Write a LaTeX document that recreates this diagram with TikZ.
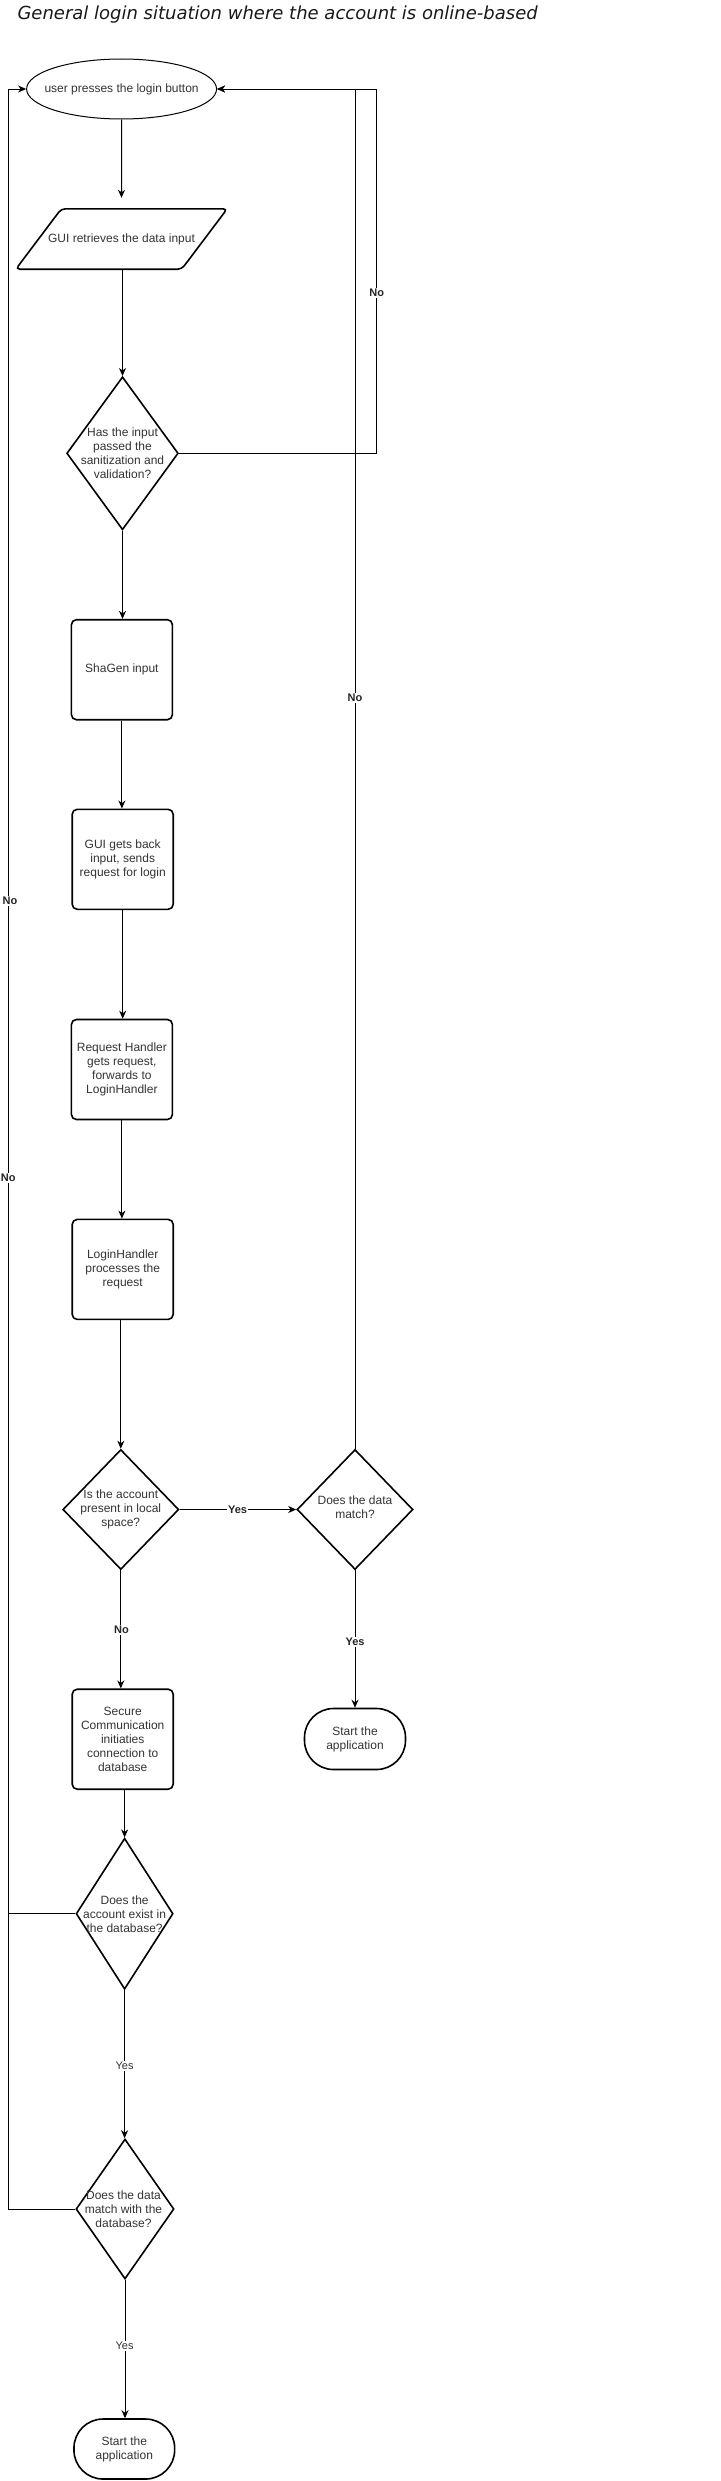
\documentclass[tikz,border=0pt]{standalone}
\usepackage{fontspec}
\setmainfont{Liberation Sans}
\newfontfamily\titlefam{DejaVu Sans}
\usetikzlibrary{shapes.geometric,arrows.meta}
\definecolor{txt}{HTML}{333333}
\begin{document}
\begin{tikzpicture}[x=1pt,y=-1pt,
  ntext/.style={font=\fontsize{12}{14}\selectfont, text=txt, align=center, inner sep=0pt},
  procbox/.style={draw, line width=1.6pt, rounded corners=5pt, minimum width=101pt, minimum height=100pt, inner sep=0pt, ntext},
  decision/.style={draw, diamond, line width=1.6pt, inner sep=0pt},
  terminal/.style={draw, line width=1.6pt, rounded corners=29pt, minimum width=101pt, minimum height=61pt, inner sep=0pt, ntext},
  conn/.style={line width=1pt, -{Stealth[length=8pt,width=7pt,inset=2.5pt]}},
  plainline/.style={line width=1pt},
  lblb/.style={fill=white, inner sep=1pt, font=\bfseries\fontsize{11}{13}\selectfont, text=black!85},
  lblr/.style={fill=white, inner sep=1pt, font=\fontsize{11}{13}\selectfont, text=txt}
]
\useasboundingbox (0,0) rectangle (720,2481);

% title
\node[anchor=base west, inner sep=0pt, font=\titlefam\itshape\fontsize{18}{20}\selectfont, text=black!90] (title) at (17.3,19.3) {General login situation where the account is online-based};

% nodes
\node[draw, ellipse, line width=1pt, minimum width=190pt, minimum height=60pt, inner sep=0pt,
      label={[ntext]center:user presses the login button}] (ell) at (121.6,89) {};
\node[ntext, minimum width=211pt, minimum height=60pt] (para) at (121.5,239) {GUI retrieves the data input};
\draw[line width=1.6pt, rounded corners=4pt] ([xshift=45.5pt]para.north west) -- (para.north east) -- ([xshift=-45.5pt]para.south east) -- (para.south west) -- cycle;

\node[decision, minimum width=111.6pt, minimum height=153pt,
      label={[ntext]center:{Has the input\\passed the\\sanitization and\\validation?}}] (d1) at (122.5,453.3) {};

\node[procbox] (b1) at (121.9,669.7) {ShaGen input};
\node[procbox] (b2) at (122.7,859.3) {GUI gets back\\input, sends\\request for login};
\node[procbox] (b3) at (121.9,1069.5) {Request Handler\\gets request,\\forwards to\\LoginHandler};
\node[procbox] (b4) at (122.7,1269.4) {LoginHandler\\processes the\\request};

\node[decision, minimum width=116pt, minimum height=120pt,
      label={[ntext]center:{Is the account\\present in local\\space?}}] (d2) at (120.8,1509.5) {};
\node[decision, minimum width=116pt, minimum height=120pt,
      label={[ntext, yshift=2pt]center:{Does the data\\match?}}] (d3) at (355,1509.5) {};

\node[procbox] (b5) at (122.7,1739.2) {Secure\\Communication\\initiaties\\connection to\\database};
\node[terminal] (t1) at (355,1739) {Start the\\application};

\node[decision, minimum width=97pt, minimum height=151pt,
      label={[ntext]center:{Does the\\account exist in\\the database?}}] (d4) at (124.6,1913.7) {};
\node[decision, minimum width=98pt, minimum height=140pt,
      label={[ntext, xshift=-1.5pt]center:{Does the data\\match with the\\database?}}] (d5) at (125,2209) {};
\node[terminal, minimum width=100.7pt, minimum height=60pt] (t2) at (124.3,2449) {Start the\\application};

% helper coordinates
\coordinate (cR) at (376.7,453.3);
\coordinate (cL) at (8.3,89);

% connectors
\draw[conn] (ell.south) -- ([yshift=11pt]para.north);
\draw[conn] (para.south -| d1.north) -- (d1.north);
\draw[conn] (d1.south) -- (d1.south |- b1.north);
\draw[conn] (b1.south) -- (b1.south |- b2.north);
\draw[conn] (b2.south) -- (b2.south |- b3.north);
\draw[conn] (b3.south) -- (b3.south |- b4.north);
\draw[conn] (b4.south -| d2.north) -- (d2.north);
\draw[conn] (d2.east) -- (d3.west);
\draw[conn] (d2.south) -- (d2.south |- b5.north);
\draw[conn] (d3.south) -- (d3.south |- t1.north);
\draw[conn] (b5.south -| d4.north) -- (d4.north);
\draw[conn] (d4.south) -- (d4.south |- d5.north);
\draw[conn] (d5.south) -- (d5.south |- t2.north);

\draw[conn] (d1.east) -- (cR) |- (ell.east);
\draw[conn] (d3.north) |- (ell.east);
\draw[conn] (d5.west) -| (cL) -- (ell.west);
\draw[plainline] (d4.west) -- (d4.west -| cL);

% labels
\node[lblb] (lno1) at (376.7,292.7) {No};
\node[lblb] (lno2) at (355,697.8) {No};
\node[lblb] (lno3) at (10,900.7) {No};
\node[lblb] (lno4) at (8.3,1178) {No};
\node[lblb] (lyes1) at (237.5,1509.5) {Yes};
\node[lblb] (lno5) at (121.5,1630) {No};
\node[lblb] (lyes2) at (355,1642) {Yes};
\node[lblr] (lyes3) at (124.6,2065.7) {Yes};
\node[lblr] (lyes4) at (124.6,2346) {Yes};
\end{tikzpicture}
\end{document}
